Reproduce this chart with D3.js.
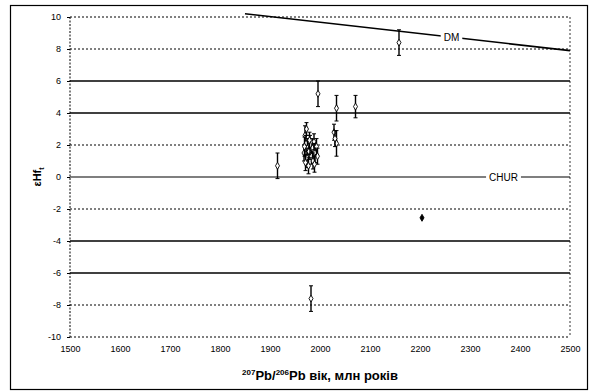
<!DOCTYPE html>
<html>
<head>
<meta charset="utf-8">
<script src="https://cdn.jsdelivr.net/npm/d3@7"></script>
<style>
  body { margin: 0; background: #fff; }
  text { font-family: "Liberation Sans", Arial, sans-serif; }
</style>
</head>
<body>
<div id="chart-area"></div>
<script>

// zircon analyses: age (Ma), eHf, error (2 sigma)
var ages = [1915, 1996, 2033, 2033, 2028, 2030, 2071, 2158, 1982, 2204,
            1970, 1972, 1975, 1968, 1974, 1978, 1980, 1971, 1977, 1983,
            1985, 1988, 1990, 1993, 1986, 1979, 1969, 1995, 1973, 1989];
var ehf  = [0.7, 5.2, 4.3, 2.1, 2.8, 2.4, 4.4, 8.4, -7.6, -2.55,
            2.6, 2.1, 1.8, 1.5, 1.2, 1.6, 2.0, 0.9, 0.7, 1.3,
            1.8, 2.2, 1.5, 1.9, 1.0, 2.3, 1.9, 1.3, 3.0, 0.8];
var errs = [0.8, 0.8, 0.8, 0.8, 0.5, 0.5, 0.7, 0.8, 0.8, 0.1,
            0.6, 0.5, 0.6, 0.5, 0.6, 0.5, 0.6, 0.5, 0.5, 0.5,
            0.6, 0.5, 0.6, 0.5, 0.5, 0.5, 0.6, 0.5, 0.4, 0.5];

// depleted mantle evolution line
var dmAges = [1850, 2500];
var dmVals = [10.2, 7.9];

var yTicks = [10, 8, 6, 4, 2, 0, -2, -4, -6, -8, -10];
var solidLines = [6, 4, -4, -6];
var xTicks = [1500, 1600, 1700, 1800, 1900, 2000, 2100, 2200, 2300, 2400, 2500];

var margin = { left:70, right:28, top:17, bottom:54 },
    width = 598 - margin.left - margin.right,
    height = 391 - margin.top - margin.bottom;

var svg = d3.select("#chart-area")
    .append("svg")
    .attr("width", 598)
    .attr("height", 391);

// outer frame
svg.append("rect")
    .attr("x", 10.5).attr("y", 5.5)
    .attr("width", 577).attr("height", 384)
    .attr("fill", "none")
    .attr("stroke", "#000")
    .attr("stroke-width", 1.2);

var g = svg.append("g")
    .attr("transform", "translate(" + margin.left + ", " + margin.top + ")");

var x = d3.scaleLinear().domain([1500, 2500]).range([0, width]);
var y = d3.scaleLinear().domain([-10, 10]).range([height, 0]);

// horizontal grid lines
g.selectAll(".grid")
    .data(yTicks)
    .enter().append("line")
        .attr("x1", 0).attr("x2", width)
        .attr("y1", function(d) { return y(d); })
        .attr("y2", function(d) { return y(d); })
        .attr("stroke", "#000")
        .attr("stroke-width", function(d) {
            if (solidLines.indexOf(d) >= 0) return 1.6;
            return d == 0 ? 1.1 : 1;
        })
        .attr("stroke-dasharray", function(d) {
            if (solidLines.indexOf(d) >= 0 || d == 0) return null;
            return "2,2";
        });

// side borders of plot (dotted)
g.append("line")
    .attr("x1", 0).attr("x2", 0).attr("y1", 0).attr("y2", height)
    .attr("stroke", "#000").attr("stroke-dasharray", "2,1.5");
g.append("line")
    .attr("x1", width).attr("x2", width).attr("y1", 0).attr("y2", height)
    .attr("stroke", "#000").attr("stroke-dasharray", "2,2").attr("stroke-width", 0.8);

// axes
var yAxis = d3.axisLeft(y).tickValues(yTicks).tickSize(3).tickPadding(6)
    .tickFormat(function(d) { return String(d); });
var gy = g.append("g").call(yAxis);
gy.select(".domain").remove();
gy.selectAll("text").attr("font-size", 9).attr("fill", "#000");

var xAxis = d3.axisBottom(x).tickValues(xTicks).tickSize(0).tickPadding(9)
    .tickFormat(d3.format("d"));
var gx = g.append("g").attr("transform", "translate(0," + height + ")").call(xAxis);
gx.select(".domain").remove();
gx.selectAll("text").attr("font-size", 9).attr("fill", "#000");

// DM line
var dmData = dmAges.map(function(d, i) { return [d, dmVals[i]]; });
g.append("path")
    .datum(dmData)
    .attr("d", d3.line()
        .x(function(d) { return x(d[0]); })
        .y(function(d) { return y(d[1]); }))
    .attr("fill", "none")
    .attr("stroke", "#000")
    .attr("stroke-width", 1.6);

// labels on the reference lines
function lineLabel(txt, age, val) {
    var t = g.append("text")
        .attr("x", x(age)).attr("y", y(val))
        .attr("dy", "0.35em")
        .attr("text-anchor", "middle")
        .attr("font-size", 10)
        .text(txt);
    var bb = t.node().getBBox();
    g.insert("rect", function() { return t.node(); })
        .attr("x", bb.x - 3).attr("y", bb.y)
        .attr("width", bb.width + 6).attr("height", bb.height)
        .attr("fill", "#fff");
}
lineLabel("DM", 2263, 10.2 - (2263 - 1850) / 650 * 2.3);
lineLabel("CHUR", 2367, 0);

// error bars
var points = ages.map(function(d, i) { return { age: d, v: ehf[i], e: errs[i] }; });

var bars = g.append("g").selectAll("g")
    .data(points)
    .enter().append("g");

bars.append("line")
    .attr("x1", function(d) { return x(d.age); })
    .attr("x2", function(d) { return x(d.age); })
    .attr("y1", function(d) { return y(d.v + d.e); })
    .attr("y2", function(d) { return y(d.v - d.e); })
    .attr("stroke", "#000")
    .attr("stroke-width", 1.4);

bars.filter(function(d) { return d.e > 0.2; })
    .selectAll(".cap")
    .data(function(d) { return [[d.age, d.v + d.e], [d.age, d.v - d.e]]; })
    .enter().append("line")
        .attr("x1", function(d) { return x(d[0]) - 2; })
        .attr("x2", function(d) { return x(d[0]) + 2; })
        .attr("y1", function(d) { return y(d[1]); })
        .attr("y2", function(d) { return y(d[1]); })
        .attr("stroke", "#000")
        .attr("stroke-width", 1);

bars.append("path")
    .attr("transform", function(d) { return "translate(" + x(d.age) + "," + y(d.v) + ")"; })
    .attr("d", d3.symbol().type(d3.symbolDiamond).size(14))
    .attr("fill", function(d) { return d.e > 0.2 ? "#fff" : "#000"; })
    .attr("stroke", "#000")
    .attr("stroke-width", 0.9);

// axis titles
var yt = svg.append("text")
    .attr("transform", "translate(41," + (margin.top + y(0)) + ") rotate(-90)")
    .attr("text-anchor", "middle")
    .attr("font-size", 11)
    .attr("font-weight", "bold");
yt.append("tspan").text("εHf");
yt.append("tspan").attr("font-size", 7).attr("dy", 3).text("t");

var xt = svg.append("text")
    .attr("x", margin.left + width / 2)
    .attr("y", 380)
    .attr("text-anchor", "middle")
    .attr("font-size", 13)
    .attr("font-weight", "bold");
xt.append("tspan").attr("font-size", 8).attr("dy", -5).text("207");
xt.append("tspan").attr("dy", 5).text("Pb/");
xt.append("tspan").attr("font-size", 8).attr("dy", -5).text("206");
xt.append("tspan").attr("dy", 5).text("Pb вік, млн років");

</script>
</body>
</html>
